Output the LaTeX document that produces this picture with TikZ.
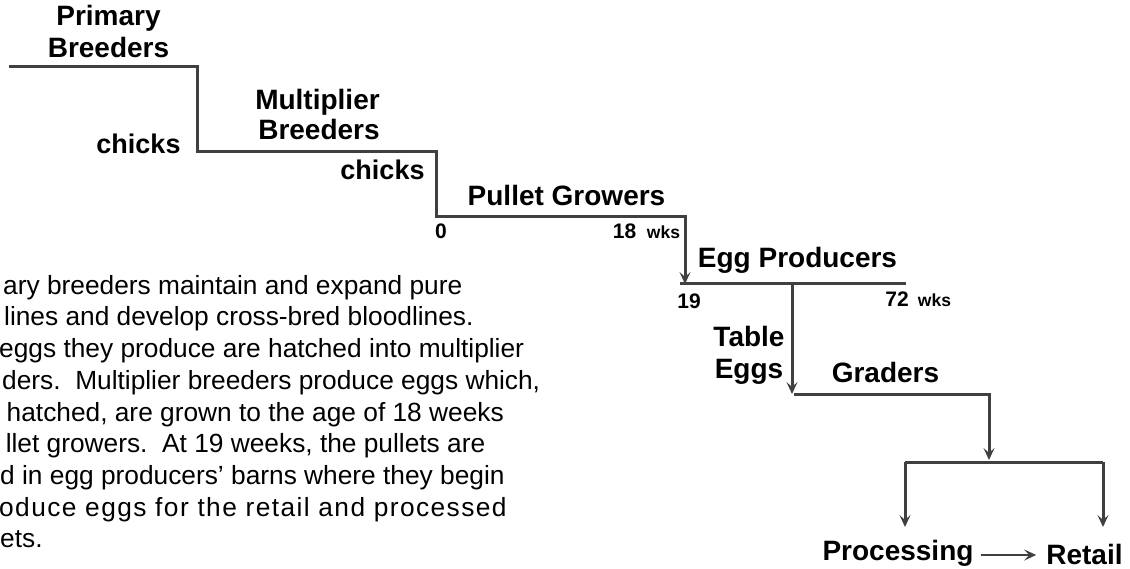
\documentclass[tikz,border=0pt]{standalone}
\usepackage{fontspec}
\setmainfont{Liberation Sans}
\usetikzlibrary{arrows.meta}
\definecolor{linegray}{RGB}{64,64,64}
\begin{document}
\begin{tikzpicture}[x=1pt,y=-1pt,
  lbl/.style={font=\bfseries\fontsize{28}{31}\selectfont, inner sep=0pt, anchor=base},
  chk/.style={font=\bfseries\fontsize{27}{31}\selectfont, inner sep=0pt, anchor=base},
  num/.style={font=\bfseries\fontsize{21}{24}\selectfont, inner sep=0pt, anchor=base},
  wk/.style={font=\bfseries\fontsize{17.5}{20}\selectfont, inner sep=0pt, anchor=base},
  para/.style={font=\fontsize{26.3}{31.7}\selectfont, inner sep=0pt, anchor=base west},
  flow/.style={draw=linegray, line width=3pt},
  arr/.style={flow, -{Stealth[length=12pt,width=11pt,inset=5pt]}}]
\useasboundingbox (0,0) rectangle (1130,569);

% corner coordinates
\coordinate (a0) at (9,66.7);
\coordinate (a1) at (197.5,66.7);
\coordinate (a2) at (197.5,151.7);
\coordinate (a3) at (436.5,151.7);
\coordinate (a4) at (436.5,217);
\coordinate (a5) at (685,217);
\coordinate (a6) at (685,284);
\coordinate (e0) at (680,284);
\coordinate (e1) at (906,284);
\coordinate (t0) at (792,284);
\coordinate (t1) at (792,394);
\coordinate (g0) at (794,394.5);
\coordinate (g1) at (989,394.5);
\coordinate (g2) at (989,460);
\coordinate (s0) at (905,462);
\coordinate (s1) at (1103,462);
\coordinate (s2) at (905,527);
\coordinate (s3) at (1103,527);

% stair line
\draw[arr] (a0) -- (a1) -- (a2) -- (a3) -- (a4) -- (a5) -- (a6);
\draw[flow] (e0) -- (e1);
\draw[arr] (t0) -- (t1);
\draw[arr] (g0) -- (g1) -- (g2);
\draw[flow] (s0) -- (s1);
\draw[arr] (s0) -- (s2);
\draw[arr] (s1) -- (s3);

% labels
\node[lbl] (pb1) at (108.5,26) {Primary};
\node[lbl] (pb2) at (108.5,57.3) {Breeders};
\node[chk] (ch1) at (138.5,154) {chicks};
\node[lbl] (mb1) at (317.5,110) {Multiplier};
\node[lbl] (mb2) at (319,140) {Breeders};
\node[chk] (ch2) at (382.5,180) {chicks};
\node[num] (n0) at (441,239) {0};
\node[lbl] (pg) at (566.5,205.7) {Pullet Growers};
\node[num] (n18) at (624.5,239) {18};
\node[wk] (w1) at (663.5,239) {wks};
\node[lbl] (ep) at (797.5,267.3) {Egg Producers};
\node[num] (n19) at (689,308.3) {19};
\node[num] (n72) at (897,306.7) {72};
\node[wk] (w2) at (934.5,306.7) {wks};
\node[lbl] (te1) at (749,346) {Table};
\node[lbl] (te2) at (749,378.3) {Eggs};
\node[lbl] (gr) at (885.5,382.7) {Graders};
\node[lbl] (proc) at (898,560) {Processing};
\node[lbl] (ret) at (1084.5,564) {Retail};
\draw[flow, -{Stealth[length=12pt,width=11pt,inset=5pt]}, line width=2.5pt]
  ([xshift=7pt]proc.east |- 0,555) -- ([xshift=-10pt]ret.west |- 0,555);

% paragraph
\node[para] (l1) at (3,294.3) {ary breeders maintain and expand pure};
\node[para] (l2) at (4,326) {lines and develop cross-bred bloodlines.};
\node[para] (l3) at (-1,357.7) {eggs they produce are hatched into multiplier};
\node[para] (l4) at (2,389.4) {ders.\ \ Multiplier breeders produce eggs which,};
\node[para] (l5) at (6.5,421.1) {hatched, are grown to the age of 18 weeks};
\node[para] (l6) at (5.6,452.8) {llet growers.\ \ At 19 weeks, the pullets are};
\node[para] (l7) at (0,484.5) {d in egg producers’ barns where they begin};
\node[para, font=\fontsize{26.3}{31.7}\selectfont\addfontfeature{LetterSpace=5.4}] (l8) at (-1,516.2) {oduce eggs for the retail and processed};
\node[para] (l9) at (0,547.9) {ets.};
\end{tikzpicture}
\end{document}
